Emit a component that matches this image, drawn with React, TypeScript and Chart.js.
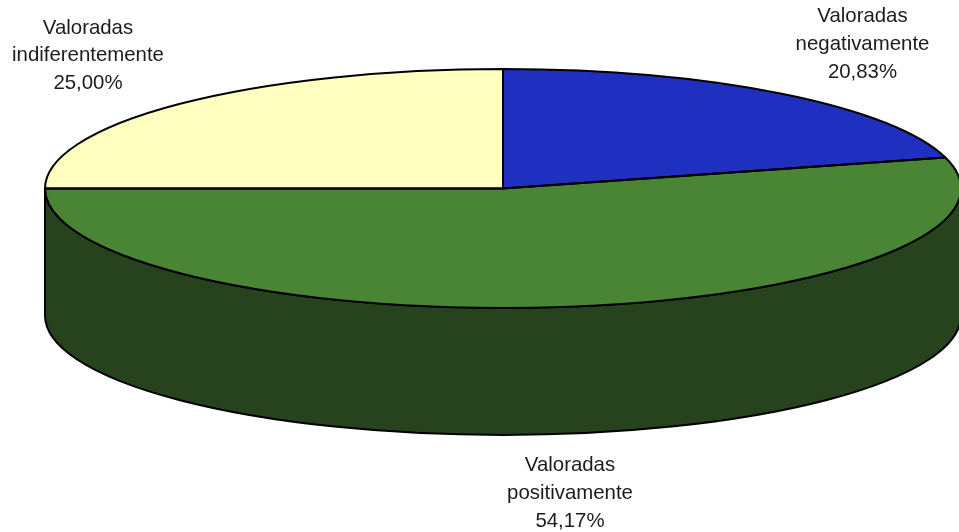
import React, { useEffect, useRef } from "react";
import { Chart, registerables } from "chart.js";

Chart.register(...registerables);

const categories = ["Valoradas negativamente", "Valoradas positivamente", "Valoradas indiferentemente"];
const labelLines = [
  ["Valoradas", "negativamente"],
  ["Valoradas", "positivamente"],
  ["Valoradas", "indiferentemente"],
];
const values = [20.83, 54.17, 25.0];
const topColors = ["#1F2FBF", "#4A8536", "#FFFFC0"];
const wallColors = ["#10185F", "#27431D", "#80805F"];

// Perspective of the pie and placement of its labels
const RX = 458;
const RY = 119.5;
const DEPTH = 127;
const LABEL_ANCHORS = [
  { x: 862.5, y: 22 },
  { x: 570, y: 471 },
  { x: 88, y: 33.5 },
];
const LINE_HEIGHT = 27.8;
const LINE_WIDTH = 2;

const pie3d = {
  id: "pie3d",
  beforeDatasetDraw(chart: any) {
    const { ctx } = chart;
    const arcs = chart.getDatasetMeta(0).data;
    arcs.forEach((arc: any, i: number) => {
      const a0 = Math.max(arc.startAngle, 0);
      const a1 = Math.min(arc.endAngle, Math.PI);
      if (a1 <= a0) return;
      ctx.save();
      ctx.beginPath();
      ctx.ellipse(arc.x, arc.y, RX, RY, 0, a0, a1, false);
      ctx.ellipse(arc.x, arc.y + DEPTH, RX, RY, 0, a1, a0, true);
      ctx.closePath();
      ctx.fillStyle = wallColors[i];
      ctx.fill();
      ctx.strokeStyle = "#000";
      ctx.lineWidth = LINE_WIDTH;
      ctx.lineJoin = "round";
      ctx.stroke();
      ctx.restore();
    });
    const first = arcs[0];
    ctx.save();
    ctx.translate(first.x, first.y);
    ctx.scale(RX / first.outerRadius, RY / first.outerRadius);
    ctx.translate(-first.x, -first.y);
  },
  afterDatasetDraw(chart: any) {
    const { ctx } = chart;
    ctx.restore();
    const arcs = chart.getDatasetMeta(0).data;
    arcs.forEach((arc: any) => {
      ctx.save();
      ctx.beginPath();
      ctx.moveTo(arc.x, arc.y);
      ctx.ellipse(arc.x, arc.y, RX, RY, 0, arc.startAngle, arc.endAngle, false);
      ctx.closePath();
      ctx.strokeStyle = "#000";
      ctx.lineWidth = LINE_WIDTH;
      ctx.lineJoin = "round";
      ctx.stroke();
      ctx.restore();
    });
  },
  afterDraw(chart: any) {
    const { ctx } = chart;
    ctx.save();
    ctx.fillStyle = "#1c1c1c";
    ctx.font = '20.4px "Liberation Sans", Arial, sans-serif';
    ctx.textAlign = "center";
    ctx.textBaseline = "alphabetic";
    values.forEach((v, i) => {
      const lines = [...labelLines[i], v.toFixed(2).replace(".", ",") + "%"];
      lines.forEach((line, j) => {
        ctx.fillText(line, LABEL_ANCHORS[i].x, LABEL_ANCHORS[i].y + j * LINE_HEIGHT);
      });
    });
    ctx.restore();
  },
};

export default function App() {
  const ref = useRef<HTMLCanvasElement | null>(null);
  useEffect(() => {
    if (!ref.current) return;
    const chart = new Chart(ref.current, {
      type: "pie",
      data: {
        labels: categories,
        datasets: [{ data: values, backgroundColor: topColors, borderWidth: 0 }],
      },
      options: {
        responsive: false,
        animation: false,
        layout: { padding: { left: 47, right: 0, top: 0, bottom: 155 } },
        plugins: { legend: { display: false }, tooltip: { enabled: false } },
      },
      plugins: [pie3d],
    } as any);
    return () => chart.destroy();
  }, []);
  return (
    <canvas
      ref={ref}
      width={959}
      height={532}
      style={{ position: "absolute", left: 0, top: 0, width: 959, height: 532, background: "#fff" }}
    />
  );
}
